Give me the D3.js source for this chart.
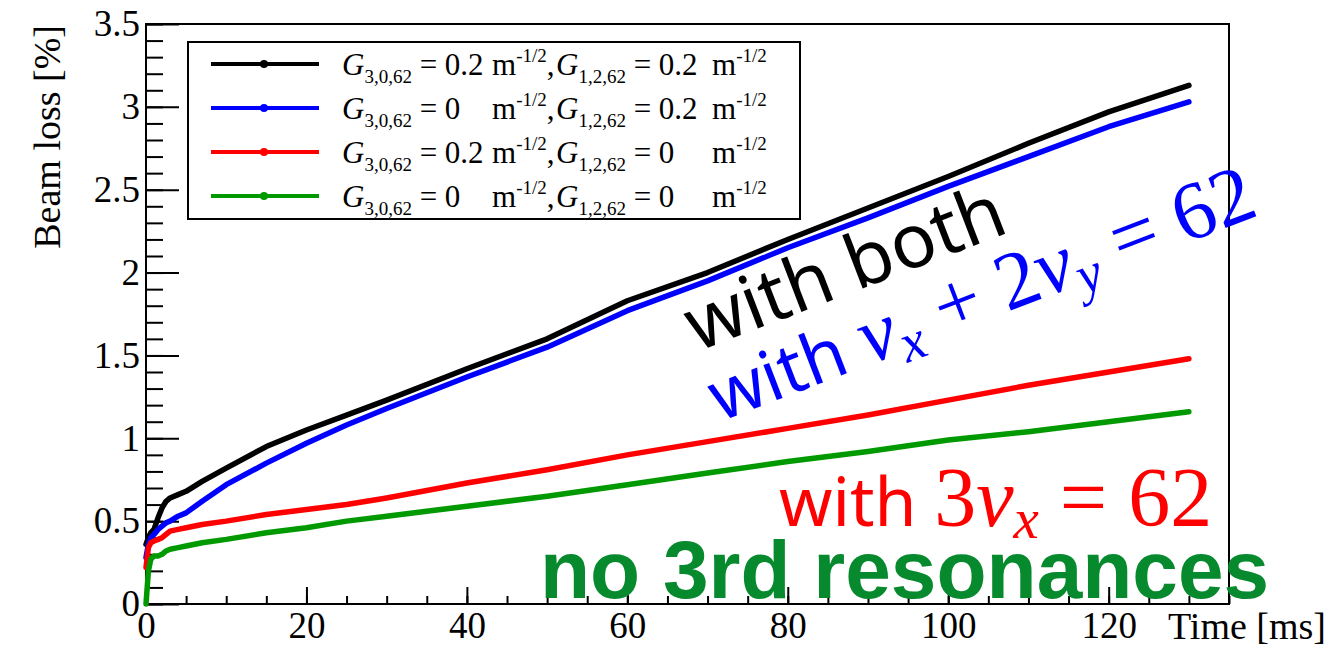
<!DOCTYPE html>
<html>
<head>
<meta charset="utf-8">
<script src="https://cdn.jsdelivr.net/npm/d3@7"></script>
<style>
  body { margin: 0; background: #fff; }
  svg { display: block; }
</style>
</head>
<body>
<svg id="chart" width="1336" height="650"></svg>
<script>
// time axis samples [ms]
const times   = [0, 0.3, 0.6, 1, 1.5, 2, 2.5, 3, 4, 5, 7, 10, 15, 20, 25, 30, 40, 50, 60, 70, 80, 90, 100, 110, 120, 130];
// beam loss [%] per setting
const lossBoth = [0.36, 0.40, 0.43, 0.45, 0.52, 0.58, 0.62, 0.64, 0.66, 0.68, 0.74, 0.82, 0.95, 1.05, 1.14, 1.23, 1.42, 1.60, 1.83, 2.00, 2.20, 2.39, 2.58, 2.78, 2.97, 3.13];
const lossG12  = [0.28, 0.36, 0.40, 0.42, 0.45, 0.47, 0.49, 0.50, 0.53, 0.55, 0.62, 0.72, 0.85, 0.97, 1.08, 1.18, 1.37, 1.55, 1.77, 1.95, 2.15, 2.33, 2.52, 2.70, 2.88, 3.03];
const lossG30  = [0.22, 0.34, 0.37, 0.38, 0.39, 0.40, 0.42, 0.44, 0.45, 0.46, 0.48, 0.50, 0.54, 0.57, 0.60, 0.64, 0.73, 0.81, 0.90, 0.98, 1.06, 1.14, 1.23, 1.32, 1.40, 1.48];
const lossNone = [0.00, 0.20, 0.27, 0.29, 0.29, 0.30, 0.32, 0.33, 0.34, 0.35, 0.37, 0.39, 0.43, 0.46, 0.50, 0.53, 0.59, 0.65, 0.72, 0.79, 0.86, 0.92, 0.99, 1.04, 1.10, 1.16];

const seriesColors = ["#000000", "#0000ff", "#ff0000", "#009900"];
const seriesData = [lossBoth, lossG12, lossG30, lossNone];
// legend entries: G3,0,62 value and G1,2,62 value
const legendG30 = ["0.2", "0", "0.2", "0"];
const legendG12 = ["0.2", "0.2", "0", "0"];

const xTicks = [0, 20, 40, 60, 80, 100, 120];
const yTicks = [0, 0.5, 1, 1.5, 2, 2.5, 3, 3.5];

const SERIF = "'Liberation Serif', 'Times New Roman', serif";
const SANS = "'Noto Sans', 'DejaVu Sans', sans-serif";

const svg = d3.select("#chart");
const x = d3.scaleLinear().domain([0, 135]).range([146, 1229]);
const y = d3.scaleLinear().domain([0, 3.5]).range([604, 24]);

// frame
svg.append("rect")
    .attr("x", 146).attr("y", 24).attr("width", 1229 - 146).attr("height", 604 - 24)
    .attr("fill", "none").attr("stroke", "#000").attr("stroke-width", 2);

const styleTicks = g => {
    g.select(".domain").remove();
    g.selectAll("line").attr("stroke-width", 2);
    g.selectAll("text").style("font-family", SERIF).style("font-size", "37px").attr("fill", "#000");
};

// y axis: minor then major ticks
svg.append("g").attr("transform", "translate(146,0)")
    .call(d3.axisLeft(y).tickValues(d3.range(0, 3.501, 0.1)).tickSize(-17).tickFormat(""))
    .call(styleTicks);
svg.append("g").attr("transform", "translate(146,0)")
    .call(d3.axisLeft(y).tickValues(yTicks).tickSize(-33).tickPadding(6).tickFormat(d => d))
    .call(styleTicks);

// x axis
svg.append("g").attr("transform", "translate(0,604)")
    .call(d3.axisBottom(x).tickValues(d3.range(0, 135.01, 5)).tickSize(-8).tickFormat(""))
    .call(styleTicks);
svg.append("g").attr("transform", "translate(0,604)")
    .call(d3.axisBottom(x).tickValues(xTicks).tickSize(-17).tickPadding(8).tickFormat(d => d))
    .call(styleTicks);

// axis titles
svg.append("text")
    .attr("transform", "translate(60,25) rotate(-90)")
    .attr("text-anchor", "end").style("font-family", SERIF).style("font-size", "38px")
    .text("Beam loss [%]");
svg.append("text")
    .attr("x", 1326).attr("y", 639).attr("text-anchor", "end")
    .style("font-family", SERIF).style("font-size", "38px")
    .text("Time [ms]");

// curves
const line = d3.line().x((d, i) => x(times[i])).y(d => y(d));
svg.append("g").selectAll("path").data(seriesData).join("path")
    .attr("d", d => line(d))
    .attr("fill", "none")
    .attr("stroke", (d, i) => seriesColors[i])
    .attr("stroke-width", 5.5)
    .attr("stroke-linejoin", "round")
    .attr("stroke-linecap", "round");

// legend
const lg = svg.append("g");
lg.append("rect").attr("x", 188).attr("y", 42).attr("width", 612).attr("height", 177)
    .attr("fill", "#fff").attr("stroke", "#000").attr("stroke-width", 2);
const rowY = i => 64 + i * 44;
const span = (t, txt, size, opts = {}) => {
    const s = t.append("tspan").style("font-family", opts.family || SERIF).style("font-size", size + "px");
    if (opts.italic) s.style("font-style", "italic");
    if (opts.dy) s.attr("dy", opts.dy);
    s.text(txt);
    return s;
};
seriesColors.forEach((c, i) => {
    lg.append("line").attr("x1", 211).attr("x2", 319).attr("y1", rowY(i)).attr("y2", rowY(i))
        .attr("stroke", c).attr("stroke-width", 4);
    lg.append("circle").attr("cx", 264).attr("cy", rowY(i)).attr("r", 4).attr("fill", c);

    const gText = (x0, sub, val) => {
        const t = lg.append("text").attr("x", x0).attr("y", rowY(i) + 11);
        span(t, "G", 31, { italic: true });
        span(t, sub, 19, { dy: 8 });
        span(t, " = " + val, 31, { dy: -8 });
    };
    const mText = (x0, comma) => {
        const t = lg.append("text").attr("x", x0).attr("y", rowY(i) + 11);
        span(t, "m", 31);
        span(t, "-1/2", 19, { dy: -13 });
        if (comma) span(t, ",", 31, { dy: 13 });
    };
    gText(342, "3,0,62", legendG30[i]);
    mText(492, true);
    gText(556, "1,2,62", legendG12[i]);
    mText(712, false);
});

// annotations
const a1 = svg.append("text")
    .attr("transform", "translate(697,352) rotate(-21)").attr("fill", "#000");
span(a1, "with both", 75, { family: SANS });

const a2 = svg.append("text").attr("transform", "translate(720,422) rotate(-21)").attr("fill", "#0000ff");
span(a2, "with ", 70, { family: SANS });
span(a2, "ν", 82, { italic: true });
span(a2, "x", 55, { italic: true, dy: 12 });
span(a2, " + 2", 82, { dy: -12 });
span(a2, "ν", 82, { italic: true });
span(a2, "y", 55, { italic: true, dy: 12 });
span(a2, " = 62", 82, { dy: -12 });

const a3 = svg.append("text").attr("x", 779).attr("y", 526).attr("fill", "#ff0000");
span(a3, "with ", 68, { family: SANS });
span(a3, "3", 84);
span(a3, "ν", 84, { italic: true });
span(a3, "x", 57, { italic: true, dy: 12 });
span(a3, " = 62", 84, { dy: -12 });

svg.append("text").attr("x", 540).attr("y", 598)
    .style("font-family", "'Liberation Sans', Arial, sans-serif").style("font-weight", "bold")
    .style("font-size", "82px").attr("fill", "#078a2e").text("no 3rd resonances");
</script>
</body>
</html>
